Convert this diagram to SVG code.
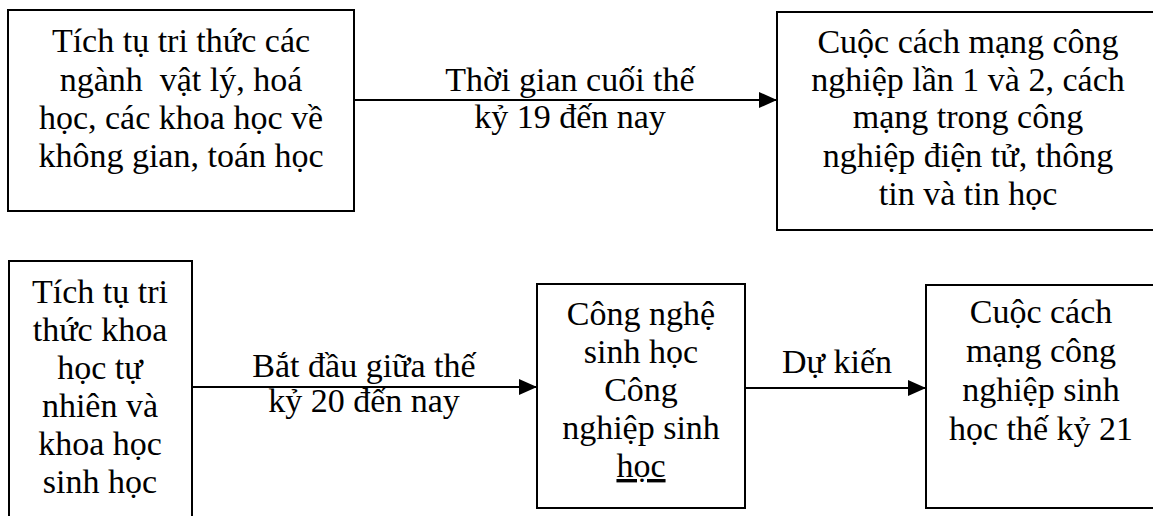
<svg xmlns="http://www.w3.org/2000/svg" width="1153" height="516" viewBox="0 0 1153 516">
<style>
.box{fill:#fff;stroke:#000;stroke-width:2}
.t{font-family:"Liberation Serif","Times New Roman",serif;font-size:34px;fill:#000;text-anchor:middle}
.c{stroke:#000;stroke-width:2;fill:none;marker-end:url(#ah)}
</style>
<defs>
<marker id="ah" markerUnits="userSpaceOnUse" markerWidth="18" markerHeight="16" refX="18" refY="8" orient="auto">
<path d="M0,0 L18,8 L0,16 z" fill="#000"/>
</marker>
</defs>
<rect width="1153" height="516" fill="#fff"/>
<g id="connectors">
<line class="c" x1="354" y1="100" x2="777" y2="100"/>
<line class="c" x1="192" y1="387" x2="537" y2="387"/>
<line class="c" x1="745" y1="388" x2="926" y2="388"/>
<text class="t" x="570" y="91">Thời gian cuối thế</text>
<text class="t" x="570" y="128">kỷ 19 đến nay</text>
<text class="t" x="364" y="377">Bắt đầu giữa thế</text>
<text class="t" x="364" y="412">kỷ 20 đến nay</text>
<text class="t" x="837" y="373">Dự kiến</text>
</g>
<g id="node1">
<rect class="box" x="8" y="10" width="346" height="201"/>
<text class="t" x="181" y="52">Tích tụ tri thức các</text>
<text class="t" x="181" y="91" xml:space="preserve">ngành  vật lý, hoá</text>
<text class="t" x="181" y="129">học, các khoa học về</text>
<text class="t" x="181" y="167">không gian, toán học</text>
</g>
<g id="node2">
<rect class="box" x="777" y="12" width="384" height="218"/>
<text class="t" x="968" y="53">Cuộc cách mạng công</text>
<text class="t" x="968" y="91">nghiệp lần 1 và 2, cách</text>
<text class="t" x="968" y="128">mạng trong công</text>
<text class="t" x="968" y="167">nghiệp điện tử, thông</text>
<text class="t" x="968" y="205">tin và tin học</text>
</g>
<g id="node3">
<rect class="box" x="9" y="261" width="183" height="262"/>
<text class="t" x="100" y="303">Tích tụ tri</text>
<text class="t" x="100" y="341">thức khoa</text>
<text class="t" x="100" y="379">học tự</text>
<text class="t" x="100" y="417">nhiên và</text>
<text class="t" x="100" y="455">khoa học</text>
<text class="t" x="100" y="493">sinh học</text>
</g>
<g id="node4">
<rect class="box" x="537" y="284" width="208" height="224"/>
<text class="t" x="641" y="325">Công nghệ</text>
<text class="t" x="641" y="363">sinh học</text>
<text class="t" x="641" y="401">Công</text>
<text class="t" x="641" y="439">nghiệp sinh</text>
<text class="t" x="641" y="477" text-decoration="underline">học</text>
</g>
<g id="node5">
<rect class="box" x="926" y="285" width="235" height="223"/>
<text class="t" x="1041" y="323">Cuộc cách</text>
<text class="t" x="1041" y="362">mạng công</text>
<text class="t" x="1041" y="401">nghiệp sinh</text>
<text class="t" x="1041" y="440">học thế kỷ 21</text>
</g>
</svg>
